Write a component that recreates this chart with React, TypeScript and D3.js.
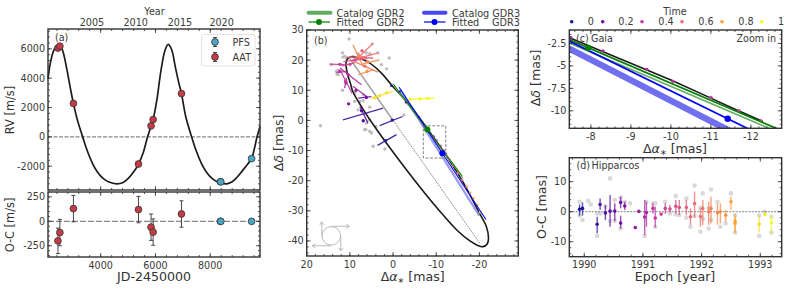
import React from "react";
import * as d3 from "d3";

const FONT = "DejaVu Sans";
const INK = "#333333";
const GREY_TEXT = "#3a3a3a";

// Panel (a) RV curve [JD, RV]
const rvCurveJD = [2077,2150,2250,2350,2490,2600,2750,2900,3005,3150,3343,3500,3700,3900,4100,4300,4584,4800,5000,5200,5380,5550,5705,5840,5915,6050,6200,6350,6467,6590,6727,6850,6950,7110,7321,7477,7677,7877,8077,8277,8600,8800,8977,9177,9357,9510,9600,9700,9817];
const rvCurveRV = [3950,4900,5700,6100,6250,5950,4750,3250,2280,1150,0,-900,-1800,-2450,-2850,-3080,-3200,-3130,-2850,-2400,-1850,-1100,-50,750,1180,2500,4500,5900,6300,5950,4750,3700,2950,1350,0,-900,-1800,-2450,-2850,-3080,-3200,-3060,-2750,-2300,-1880,-1480,-900,-80,700];

const aatJD = [2440,2510,3005,5380,5840,5915,6950];
const aatRV = [6050,6180,2280,-1850,750,1180,2950];
const aatOC = [-200,-115,130,120,-60,-110,75];
const aatErr = [130,135,135,135,135,135,135];
const pfsJD = [8370,8385,9510];
const pfsRV = [-3060,-3060,-1480];
const pfsOC = [0,0,0];
const pfsErr = [6,6,6];
const yearLabels = [2005,2010,2015,2020];
const yearJD = [3682,5277,6894,8416];

// Panel (b) orbit [ra, dec]
const orbitRA = [0.4,2.7,5.4,8.9,10.4,10.9,10.6,9.9,9.3,6.9,4.2,1,-3,-7.5,-11.6,-15,-17.8,-19.5,-20.8,-21.8,-22.1,-21.6,-20.2,-16,-12,-8,-4,0.4];
const orbitDec = [11.8,15.7,19,21,20.7,19,15.7,12.4,9.5,3.6,-2.2,-8.6,-16.2,-24.4,-31.4,-36.7,-40,-41.4,-41.9,-41,-39,-35.2,-31.3,-20,-11,-2.9,4.8,11.8];
const orbitZoomRA = [-7.48,-10.03,-10.93,-11.56,-12.3];
const orbitZoomDec = [-1.88,-6.62,-8.45,-9.74,-11.2];

const gdr2FitRA = [0,-16];
const gdr2FitDec = [12.2,-18.4];
const gdr2CatRA = [-0.3,-16.2];
const gdr2CatDec = [11.2,-19.1];
const gdr3FitRA = [-1.4,-21.5];
const gdr3FitDec = [11,-32.9];
const gdr3CatRA = [-1.6,-20];
const gdr3CatDec = [10.3,-31.7];
const gdr2Pos = [-7.93,-2.99];
const gdr3Pos = [-11.42,-10.89];

const gaiaRA = [0.4,-1.5,-3,-6,-7.5,-8.3,-9.4,-10.05,-11,-11.7,-12.25,-13,-14,-15,-16,-17,-17.8,-18.6,-19.5,-20.2];
const gaiaDec = [11.5,9.5,6,1,-1.85,-3.33,-5.4,-6.72,-8.5,-10,-11.1,-13,-15,-17.5,-19.8,-22,-24,-25.8,-28,-30.5];
const gaiaT = [0.02,0.1,0.2,0.25,0.3,0.33,0.36,0.38,0.42,0.45,0.48,0.5,0.55,0.58,0.6,0.7,0.75,0.85,0.9,1];

// Hipparcos abscissa residuals in (b): dot, segment ends, time
const hipRA = [1.76,0.2,6.9,7.3,6.2,10.3,8.6,10.4,10.9,12.3,12.3,10,8.6,7.2,7.2,7.9,6,5.9,3.1,4.2,1.5,-3.9,-6.2,-8,11,9,6.5];
const hipDec = [-6.7,0.1,-0.1,3.2,7.6,5.5,9.9,15.2,12.5,16.3,18.6,18.6,20.1,20.8,23.1,21.5,16.3,19.5,8.2,7.5,9.2,7,7.2,7.3,13,20,18];
const hipRA1 = [3.6,3.1,11.6,7.7,8.1,10.3,9.3,12.3,10.8,13.1,14.7,11.9,10.8,3.5,4.8,9.3,8.1,7,5.2,4.2,1.5,-3.9,-6.2,-8,12,11.5,9];
const hipDec1 = [-8.3,-1.7,0.2,4.6,7.4,5.5,11.3,17.4,14.1,15.9,18.7,18.1,21,22.4,25.4,25.1,15.2,18.8,7.2,7.5,9.2,7,7.2,7.3,16,19.5,19.5];
const hipRA2 = [-0.8,-2.2,2.3,5.8,5,10.3,6.2,7.3,11.2,10.8,11.2,8.9,4.6,9.3,8.1,6.9,4.6,3.1,0,4.2,1.5,-9.6,-6.2,-8,9.5,6,3.5];
const hipDec2 = [-4.7,1.3,4.1,-0.9,7.9,5.5,8,11.8,10.7,16.3,18.5,19.1,20.7,20.1,20.7,17.9,16.8,20.1,9.6,7.5,9.2,7.4,7.2,7.3,9,20.5,16];
const hipT = [0.02,0.05,0.1,0.16,0.2,0.25,0.32,0.36,0.33,0.38,0.42,0.45,0.55,0.6,0.58,0.7,0.75,0.72,0.95,0.95,0.95,1,1,1,0.4,0.5,0.65];

const greyRA = [10.2,4.8,11.7,0.9,2.7,1.5,14.3,12.7,11.7,16.8,-2.5,5.4,6.6,5,4.6,1.9,10.8,11.2,9.3,6.2,8.1,6.9,8.9,7.7,5.4,6.2,8.1,13.1,8.9,6.9,5.4,6.3,4,3.5,5.4,11.6,12.7,13];
const greyDec = [27,25.4,22.4,20.7,18.5,17.1,18.5,15.2,10,-1.8,1.8,4.4,-3.1,-4.2,-8.6,-9.5,20.7,21.2,21.2,22.4,22.1,8.5,9.1,6.3,0.2,-0.9,3.5,16.3,6.3,6.5,-3.6,-3,-2,22.4,22.1,21,16.6,15.4];

// Panel (d)
const ocEpoch = [1989.92,1989.97,1990.22,1990.27,1990.36,1990.44,1990.52,1990.62,1990.62,1990.69,1990.87,1990.93,1991.03,1991.06,1991.17,1991.21,1991.31,1991.38,1991.46,1991.56,1991.62,1991.74,1991.81,1991.88,1991.98,1992.02,1992.12,1992.16,1992.27,1992.32,1992.41,1992.5,1992.57,1992.57,1992.98,1993.08,1993.19];
const ocVal = [0.8,1.1,-4.2,2.4,-0.4,0.2,0.2,3.1,-3.8,1.9,-5.3,0.1,-1.8,-0.3,1.1,-2.1,-0.8,1.1,0.9,1.8,1.4,1.4,-1.7,2.7,-1.6,1.1,0,1.1,-0.3,0,-1.2,3.3,-3.1,-3.9,-4.2,-0.9,-3.7];
const ocLo = [-1.3,-1.3,-7.2,0.6,-2.8,-5,-3.1,1.1,-5.6,0.6,-5.3,0.1,-7.8,-5,-0.6,-5.3,-0.8,-0.8,-0.2,-0.6,-1.1,-1.1,-4.4,-2,-5,-4.4,-4.4,-3.9,-4.4,-3.9,-3.3,0.6,-6.7,-7.2,-6.9,-0.9,-7.2];
const ocHi = [2.4,3.1,-1.7,4.4,2.2,5.6,2.8,5,-1.3,3.3,-5.3,0.1,3.9,3.3,2.8,1.7,-0.8,2.8,2.2,3.9,3.9,3.9,1.1,6.7,1.1,3.9,3.3,5,2.8,2.8,0.6,5,-0.6,-1.7,-1.7,-0.9,-1.1];
const ocGreyEpoch = [1989.92,1989.92,1989.97,1990.07,1990.11,1990.22,1990.22,1990.27,1990.36,1990.44,1990.44,1990.52,1990.52,1990.62,1990.62,1990.69,1990.78,1991.03,1991.06,1991.17,1991.21,1991.21,1991.38,1991.46,1991.56,1991.56,1991.62,1991.74,1991.74,1991.81,1991.88,1991.88,1991.98,1991.98,1992.02,1992.02,1992.12,1992.12,1992.16,1992.16,1992.27,1992.32,1992.41,1992.5,1992.57,1992.57,1992.98,1992.98,1993.08,1993.19,1993.19];
const ocGreyVal = [3.3,-1.3,-2.8,3.6,2.4,-8.1,-0.6,-0.6,1.7,11.1,-3.1,3.9,-3.1,4.7,-5.6,3.3,2.8,-8.1,3.3,2.8,2.8,-5,3.3,-0.6,5.2,-0.9,-1.1,4.4,-2,-5,8.7,-1.4,-6.7,1.3,6.1,-2.4,-5.6,1.1,7.4,-2.8,3.3,-5,-3.9,6.1,-1.3,-6.9,-1.3,-8.1,0,-1.7,-6.9];

const timeLegend = [0,0.2,0.4,0.6,0.8,1];
const timeLegendLabels = ["0","0.2","0.4","0.6","0.8","1"];
const timeStops = ["#1a1a96","#6e0ca6","#c438a0","#ee6a70","#fca03a","#f8f820"];

const timeColor = d3.scaleLinear<string>().domain(timeLegend).range(timeStops);
const epochT = d3.scaleLinear().domain([1989.92,1993.19]).range([0,1]);

const ax = { xa: d3.scaleLinear().domain([2077,9817]).range([48,260]),
  yRV: d3.scaleLinear().domain([-3620,7350]).range([190,29]),
  yOC: d3.scaleLinear().domain([-365,300]).range([257,192]),
  xb: d3.scaleLinear().domain([20,-29]).range([306.7,518.3]),
  yb: d3.scaleLinear().domain([-45,30]).range([256,30]),
  xc: d3.scaleLinear().domain([-7.46,-12.77]).range([569.3,781.7]),
  yc: d3.scaleLinear().domain([-11.95,-1]).range([128.3,30]),
  xd: d3.scaleLinear().domain([1989.745,1993.365]).range([569.3,781.7]),
  yd: d3.scaleLinear().domain([-15,18]).range([256.7,157.7]) };

type S = d3.ScaleLinear<number, number>;
const TICK = 9.6;

function range(a: number, b: number, st: number) {
  const n = Math.round((b - a) / st);
  return d3.range(n + 1).map((i) => a + i * st);
}

function Frame({ x, y, xMaj, xMin, yMaj, yMin, xLab = true }: { x: S; y: S; xMaj: number[]; xMin: number[]; yMaj: number[]; yMin: number[]; xLab?: boolean }) {
  const [x0, x1] = x.range();
  const [y0, y1] = y.range();
  const T = (k: string, a: number, b: number, c: number, d: number) => (
    <line key={k} x1={a} y1={b} x2={c} y2={d} stroke={INK} strokeWidth={0.8} />
  );
  return (
    <g>
      <rect x={x0} y={y1} width={x1 - x0} height={y0 - y1} fill="none" stroke={INK} strokeWidth={1.4} />
      {xMin.map((v, i) => <g key={"xm" + i}>{T("a", x(v), y0, x(v), y0 - 2)}{T("b", x(v), y1, x(v), y1 + 2)}</g>)}
      {xMaj.map((v, i) => <g key={"xM" + i}>{T("a", x(v), y0, x(v), y0 - 4)}{T("b", x(v), y1, x(v), y1 + 4)}</g>)}
      {yMin.map((v, i) => <g key={"ym" + i}>{T("a", x0, y(v), x0 + 2, y(v))}{T("b", x1, y(v), x1 - 2, y(v))}</g>)}
      {yMaj.map((v, i) => <g key={"yM" + i}>{T("a", x0, y(v), x0 + 4, y(v))}{T("b", x1, y(v), x1 - 4, y(v))}</g>)}
      {xLab && xMaj.map((v, i) => <text key={"xl" + i} x={x(v)} y={y0 + 11.5} fontSize={TICK} textAnchor="middle" fill={GREY_TEXT}>{v}</text>)}
      {yMaj.map((v, i) => <text key={"yl" + i} x={x0 - 3} y={y(v) + 3.4} fontSize={TICK} textAnchor="end" fill={GREY_TEXT}>{v}</text>)}
    </g>
  );
}

function Rot({ x, y, size, children }: { x: number; y: number; size: number; children: React.ReactNode }) {
  return <text transform={`translate(${x},${y}) rotate(-90)`} fontSize={size} textAnchor="middle" fill={INK}>{children}</text>;
}

const pathOf = (xs: S, ys: S, xv: number[], yv: number[], curve: d3.CurveFactory = d3.curveLinear) =>
  d3.line<number>().x((v) => xs(v)).y((_, i) => ys(yv[i])).curve(curve)(xv) || "";

function Dot({ cx, cy, fill, r = 3.4 }: { cx: number; cy: number; fill: string; r?: number }) {
  return <circle cx={cx} cy={cy} r={r} fill={fill} stroke={INK} strokeWidth={0.8} />;
}

const AAT = "#c43b44";
const PFS = "#4ba6c6";
const GREEN = "#008000";
const BLUE = "#0000f0";
const CAT3 = "#6f6ff0";
const CAT2 = "#63ad63";

function Err({ x, y1, y2 }: { x: number; y1: number; y2: number }) {
  return (
    <g stroke={INK} strokeWidth={0.9}>
      <line x1={x} x2={x} y1={y1} y2={y2} />
      <line x1={x - 2} x2={x + 2} y1={y1} y2={y1} />
      <line x1={x - 2} x2={x + 2} y1={y2} y2={y2} />
    </g>
  );
}

function PanelA() {
  const { xa, yRV, yOC } = ax;
  return (
    <g>
      <line x1={48} x2={260} y1={yRV(0)} y2={yRV(0)} stroke="#888" strokeWidth={1.2} strokeDasharray="4 1.5" />
      <path d={pathOf(xa, yRV, rvCurveJD, rvCurveRV, d3.curveCatmullRom)} fill="none" stroke="#1c1c1c" strokeWidth={1.7} />
      {aatJD.map((v, i) => <Dot key={i} cx={xa(v)} cy={yRV(aatRV[i])} fill={AAT} />)}
      {pfsJD.map((v, i) => <Dot key={i} cx={xa(v)} cy={yRV(pfsRV[i])} fill={PFS} />)}
      <Frame x={xa} y={yRV} xLab={false} xMaj={[4000,6000,8000]} xMin={range(2400,9600,400)} yMaj={[-2000,0,2000,4000,6000]} yMin={range(-3600,7200,400)} />
      {yearLabels.map((v, i) => <text key={v} x={xa(yearJD[i])} y={26} fontSize={TICK} textAnchor="middle" fill={GREY_TEXT}>{v}</text>)}
      <text x={154.5} y={15} fontSize={TICK} textAnchor="middle" fill={GREY_TEXT}>Year</text>
      <text x={55} y={41} fontSize={TICK} fill={GREY_TEXT}>(a)</text>
      <rect x={201.5} y={34.5} width={53.5} height={31.5} rx={2} fill="#fff" fillOpacity={0.85} stroke="#ddd" strokeWidth={0.8} />
      <Err x={215} y1={37.5} y2={46.5} /><Dot cx={215} cy={42} fill={PFS} />
      <Err x={215} y1={52.5} y2={61.5} /><Dot cx={215} cy={57} fill={AAT} />
      <text x={232.5} y={45.5} fontSize={TICK} fill={GREY_TEXT}>PFS</text>
      <text x={232.5} y={60.5} fontSize={TICK} fill={GREY_TEXT}>AAT</text>
      <Rot x={14} y={110} size={11.4}>RV [m/s]</Rot>

      <line x1={48} x2={260} y1={yOC(0)} y2={yOC(0)} stroke="#888" strokeWidth={1.2} strokeDasharray="6 2" />
      {aatJD.map((v, i) => <Err key={i} x={xa(v)} y1={yOC(aatOC[i] - aatErr[i])} y2={yOC(aatOC[i] + aatErr[i])} />)}
      {aatJD.map((v, i) => <Dot key={i} cx={xa(v)} cy={yOC(aatOC[i])} fill={AAT} />)}
      {pfsJD.map((v, i) => <Err key={i} x={xa(v)} y1={yOC(pfsOC[i] - pfsErr[i])} y2={yOC(pfsOC[i] + pfsErr[i])} />)}
      {pfsJD.map((v, i) => <Dot key={i} cx={xa(v)} cy={yOC(pfsOC[i])} fill={PFS} />)}
      <Frame x={xa} y={yOC} xMaj={[4000,6000,8000]} xMin={range(2400,9600,400)} yMaj={[-250,0,250]} yMin={range(-350,300,50)} />
      <Rot x={14} y={225} size={11.4}>O-C [m/s]</Rot>
      <text x={154} y={281} fontSize={12.6} textAnchor="middle" fill={INK}>JD-2450000</text>
    </g>
  );
}

function LegendB() {
  return (
    <g fontSize={9.7} fill={GREY_TEXT}>
      <line x1={308.5} x2={330.5} y1={12.7} y2={12.7} stroke={CAT2} strokeWidth={4} strokeLinecap="round" />
      <line x1={308.5} x2={330} y1={22} y2={22} stroke={GREEN} strokeWidth={1.2} />
      <circle cx={319} cy={22} r={3} fill={GREEN} />
      <text x={336.5} y={16.5}>Catalog GDR2</text>
      <text x={336.5} y={25.5}>Fitted</text>
      <text x={376.5} y={25.5}>GDR2</text>
      <line x1={424} x2={445.5} y1={12.7} y2={12.7} stroke="#4848f0" strokeWidth={4} strokeLinecap="round" />
      <line x1={424} x2={445.5} y1={22} y2={22} stroke={BLUE} strokeWidth={1.2} />
      <circle cx={434.5} cy={22} r={3} fill={BLUE} />
      <text x={452} y={16.5}>Catalog GDR3</text>
      <text x={452} y={25.5}>Fitted</text>
      <text x={492} y={25.5}>GDR3</text>
    </g>
  );
}

function PanelB() {
  const { xb, yb } = ax;
  const cx = xb(14.3), cy = yb(-38.3);
  return (
    <g>
      {greyRA.map((v, i) => <circle key={i} cx={xb(v)} cy={yb(greyDec[i])} r={1.7} fill="#bdbdbd" />)}
      <line x1={xb(10)} y1={yb(20.5)} x2={xb(0)} y2={yb(0)} stroke="#a0a0a0" strokeWidth={1.6} />
      <line x1={xb(0)} y1={yb(0)} x2={xb(-20.2)} y2={yb(-41)} stroke="#555" strokeWidth={0.7} strokeDasharray="1.8 1" />
      <path d={pathOf(xb, yb, orbitRA, orbitDec, d3.curveCatmullRom)} fill="none" stroke="#1a1a1a" strokeWidth={1.6} />
      {hipRA.map((v, i) => <line key={i} x1={xb(hipRA1[i])} y1={yb(hipDec1[i])} x2={xb(hipRA2[i])} y2={yb(hipDec2[i])} stroke={timeColor(hipT[i])} strokeWidth={1.3} opacity={0.9} />)}
      {hipRA.map((v, i) => <circle key={i} cx={xb(v)} cy={yb(hipDec[i])} r={1.7} fill={timeColor(hipT[i])} />)}
      <path d={pathOf(xb, yb, gdr3CatRA, gdr3CatDec)} stroke={CAT3} strokeWidth={2.2} fill="none" opacity={0.7} />
      <path d={pathOf(xb, yb, gdr2CatRA, gdr2CatDec)} stroke={CAT2} strokeWidth={1.1} fill="none" />
      {gaiaRA.map((v, i) => <circle key={i} cx={xb(v)} cy={yb(gaiaDec[i])} r={1.3} fill={timeColor(gaiaT[i])} />)}
      <path d={pathOf(xb, yb, gdr2FitRA, gdr2FitDec)} stroke={GREEN} strokeWidth={1} fill="none" />
      <path d={pathOf(xb, yb, gdr3FitRA, gdr3FitDec)} stroke={BLUE} strokeWidth={1.1} fill="none" />
      <circle cx={xb(gdr2Pos[0])} cy={yb(gdr2Pos[1])} r={3} fill={GREEN} />
      <circle cx={xb(gdr3Pos[0])} cy={yb(gdr3Pos[1])} r={3} fill={BLUE} />
      <rect x={xb(-7)} y={yb(-1.8)} width={xb(-12.2) - xb(-7)} height={yb(-12.5) - yb(-1.8)} fill="none" stroke="#666" strokeWidth={0.8} strokeDasharray="3 1.5" />
      <g stroke="#bbb" strokeWidth={1} fill="none">
        <circle cx={cx} cy={cy} r={9.3} />
        <line x1={cx - 9.5} y1={cy} x2={cx - 9.5} y2={cy - 14} />
        <path d={`M${cx - 11.5} ${cy - 11}L${cx - 9.5} ${cy - 14}L${cx - 7.5} ${cy - 11}`} />
        <line x1={cx} y1={cy - 9.5} x2={cx + 18} y2={cy - 9.5} />
        <path d={`M${cx + 15} ${cy - 11.5}L${cx + 18} ${cy - 9.5}L${cx + 15} ${cy - 7.5}`} />
        <line x1={cx + 9.5} y1={cy} x2={cx + 9.5} y2={cy + 15} />
        <path d={`M${cx + 7.5} ${cy + 12}L${cx + 9.5} ${cy + 15}L${cx + 11.5} ${cy + 12}`} />
        <line x1={cx} y1={cy + 10} x2={cx - 19} y2={cy + 10} />
        <path d={`M${cx - 16} ${cy + 8}L${cx - 19} ${cy + 10}L${cx - 16} ${cy + 12}`} />
      </g>
      <Frame x={xb} y={yb} xMaj={[20,10,0,-10,-20]} xMin={range(-28,20,2)} yMaj={[30,20,10,0,-10,-20,-30,-40]} yMin={range(-44,30,2)} />
      <text x={314} y={44} fontSize={TICK} fill={GREY_TEXT}>(b)</text>
      <LegendB />
      <Rot x={283} y={143} size={12.6}>
        <tspan>Δ</tspan><tspan fontStyle="italic">δ</tspan><tspan> [mas]</tspan>
      </Rot>
      <text x={412.7} y={281} fontSize={12.6} textAnchor="middle" fill={INK}>
        <tspan>Δ</tspan><tspan fontStyle="italic">α</tspan><tspan fontSize={8} dy={2}>∗</tspan><tspan dy={-2}> [mas]</tspan>
      </text>
    </g>
  );
}

function PanelC() {
  const { xc, yc } = ax;
  const clip = "clipC";
  return (
    <g>
      <clipPath id={clip}><rect x={569.3} y={30} width={212.4} height={98.3} /></clipPath>
      <g clipPath={`url(#${clip})`}>
        <path d={pathOf(xc, yc, gdr3CatRA, gdr3CatDec)} stroke={CAT3} strokeWidth={6.4} fill="none" />
        <path d={pathOf(xc, yc, gdr2CatRA, gdr2CatDec)} stroke={CAT2} strokeWidth={1.6} fill="none" />
        <path d={pathOf(xc, yc, orbitZoomRA, orbitZoomDec)} stroke="#1a1a1a" strokeWidth={1.6} fill="none" />
        {gaiaRA.map((v, i) => <circle key={i} cx={xc(v)} cy={yc(gaiaDec[i])} r={1.7} fill={timeColor(gaiaT[i])} />)}
        <path d={pathOf(xc, yc, gdr2FitRA, gdr2FitDec)} stroke={GREEN} strokeWidth={1.7} fill="none" />
        <path d={pathOf(xc, yc, gdr3FitRA, gdr3FitDec)} stroke={BLUE} strokeWidth={1.7} fill="none" />
        <circle cx={xc(gdr2Pos[0])} cy={yc(gdr2Pos[1])} r={3.2} fill={GREEN} />
        <circle cx={xc(gdr3Pos[0])} cy={yc(gdr3Pos[1])} r={3.2} fill={BLUE} />
      </g>
      <Frame x={xc} y={yc} xMaj={[-8,-9,-10,-11,-12]} xMin={range(-12.6,-7.6,0.2)} yMaj={[-2.5,-5,-7.5,-10]} yMin={range(-11.5,-1,0.5)} />
      <text x={576} y={42} fontSize={TICK} fill={GREY_TEXT}>(c)</text>
      <text x={591} y={42} fontSize={TICK} fill={GREY_TEXT}>Gaia</text>
      <text x={776} y={42} fontSize={TICK} textAnchor="end" fill={GREY_TEXT}>Zoom in</text>
      <Rot x={540} y={78} size={12.6}>
        <tspan>Δ</tspan><tspan fontStyle="italic">δ</tspan><tspan> [mas]</tspan>
      </Rot>
      <text x={675} y={153} fontSize={12.6} textAnchor="middle" fill={INK}>
        <tspan>Δ</tspan><tspan fontStyle="italic">α</tspan><tspan fontSize={8} dy={2}>∗</tspan><tspan dy={-2}> [mas]</tspan>
      </text>
      <text x={675} y={14.5} fontSize={TICK} textAnchor="middle" fill={GREY_TEXT}>Time</text>
      {timeLegend.map((t, i) => (
        <g key={t}>
          <circle cx={571.7 + [0, 31, 70.3, 110.3, 150.3, 190][i]} cy={21.7} r={1.8} fill={timeColor(t)} />
          <text x={[590.7, 626, 666, 706, 746, 781][i]} y={25} fontSize={TICK} textAnchor="middle" fill={GREY_TEXT}>{timeLegendLabels[i]}</text>
        </g>
      ))}
    </g>
  );
}

function PanelD() {
  const { xd, yd } = ax;
  return (
    <g>
      {ocGreyEpoch.map((v, i) => <circle key={i} cx={xd(v)} cy={yd(ocGreyVal[i])} r={2.3} fill="#d9d9d9" />)}
      <line x1={569.3} x2={781.7} y1={yd(0)} y2={yd(0)} stroke="#777" strokeWidth={0.9} strokeDasharray="2 1.2" />
      {ocEpoch.map((v, i) => <line key={i} x1={xd(v)} x2={xd(v)} y1={yd(ocLo[i])} y2={yd(ocHi[i])} stroke={timeColor(epochT(v))} strokeWidth={1.4} opacity={0.75} />)}
      {ocEpoch.map((v, i) => <circle key={i} cx={xd(v)} cy={yd(ocVal[i])} r={1.8} fill={timeColor(epochT(v))} />)}
      <Frame x={xd} y={yd} xMaj={[1990,1991,1992,1993]} xMin={range(1989.8,1993.2,0.2)} yMaj={[-10,0,10]} yMin={range(-14,18,2)} />
      <text x={576.5} y={169} fontSize={TICK} fill={GREY_TEXT}>(d)</text>
      <text x={591.5} y={169} fontSize={TICK} fill={GREY_TEXT}>Hipparcos</text>
      <Rot x={546} y={207} size={12.6}>O-C [mas]</Rot>
      <text x={675} y={281} fontSize={12.6} textAnchor="middle" fill={INK}>Epoch [year]</text>
    </g>
  );
}

export default function App() {
  return (
    <svg width={793} height={289} viewBox="0 0 793 289" style={{ position: "absolute", left: 0, top: 0, fontFamily: FONT, background: "#fff" }}>
      <PanelA />
      <PanelB />
      <PanelC />
      <PanelD />
    </svg>
  );
}
